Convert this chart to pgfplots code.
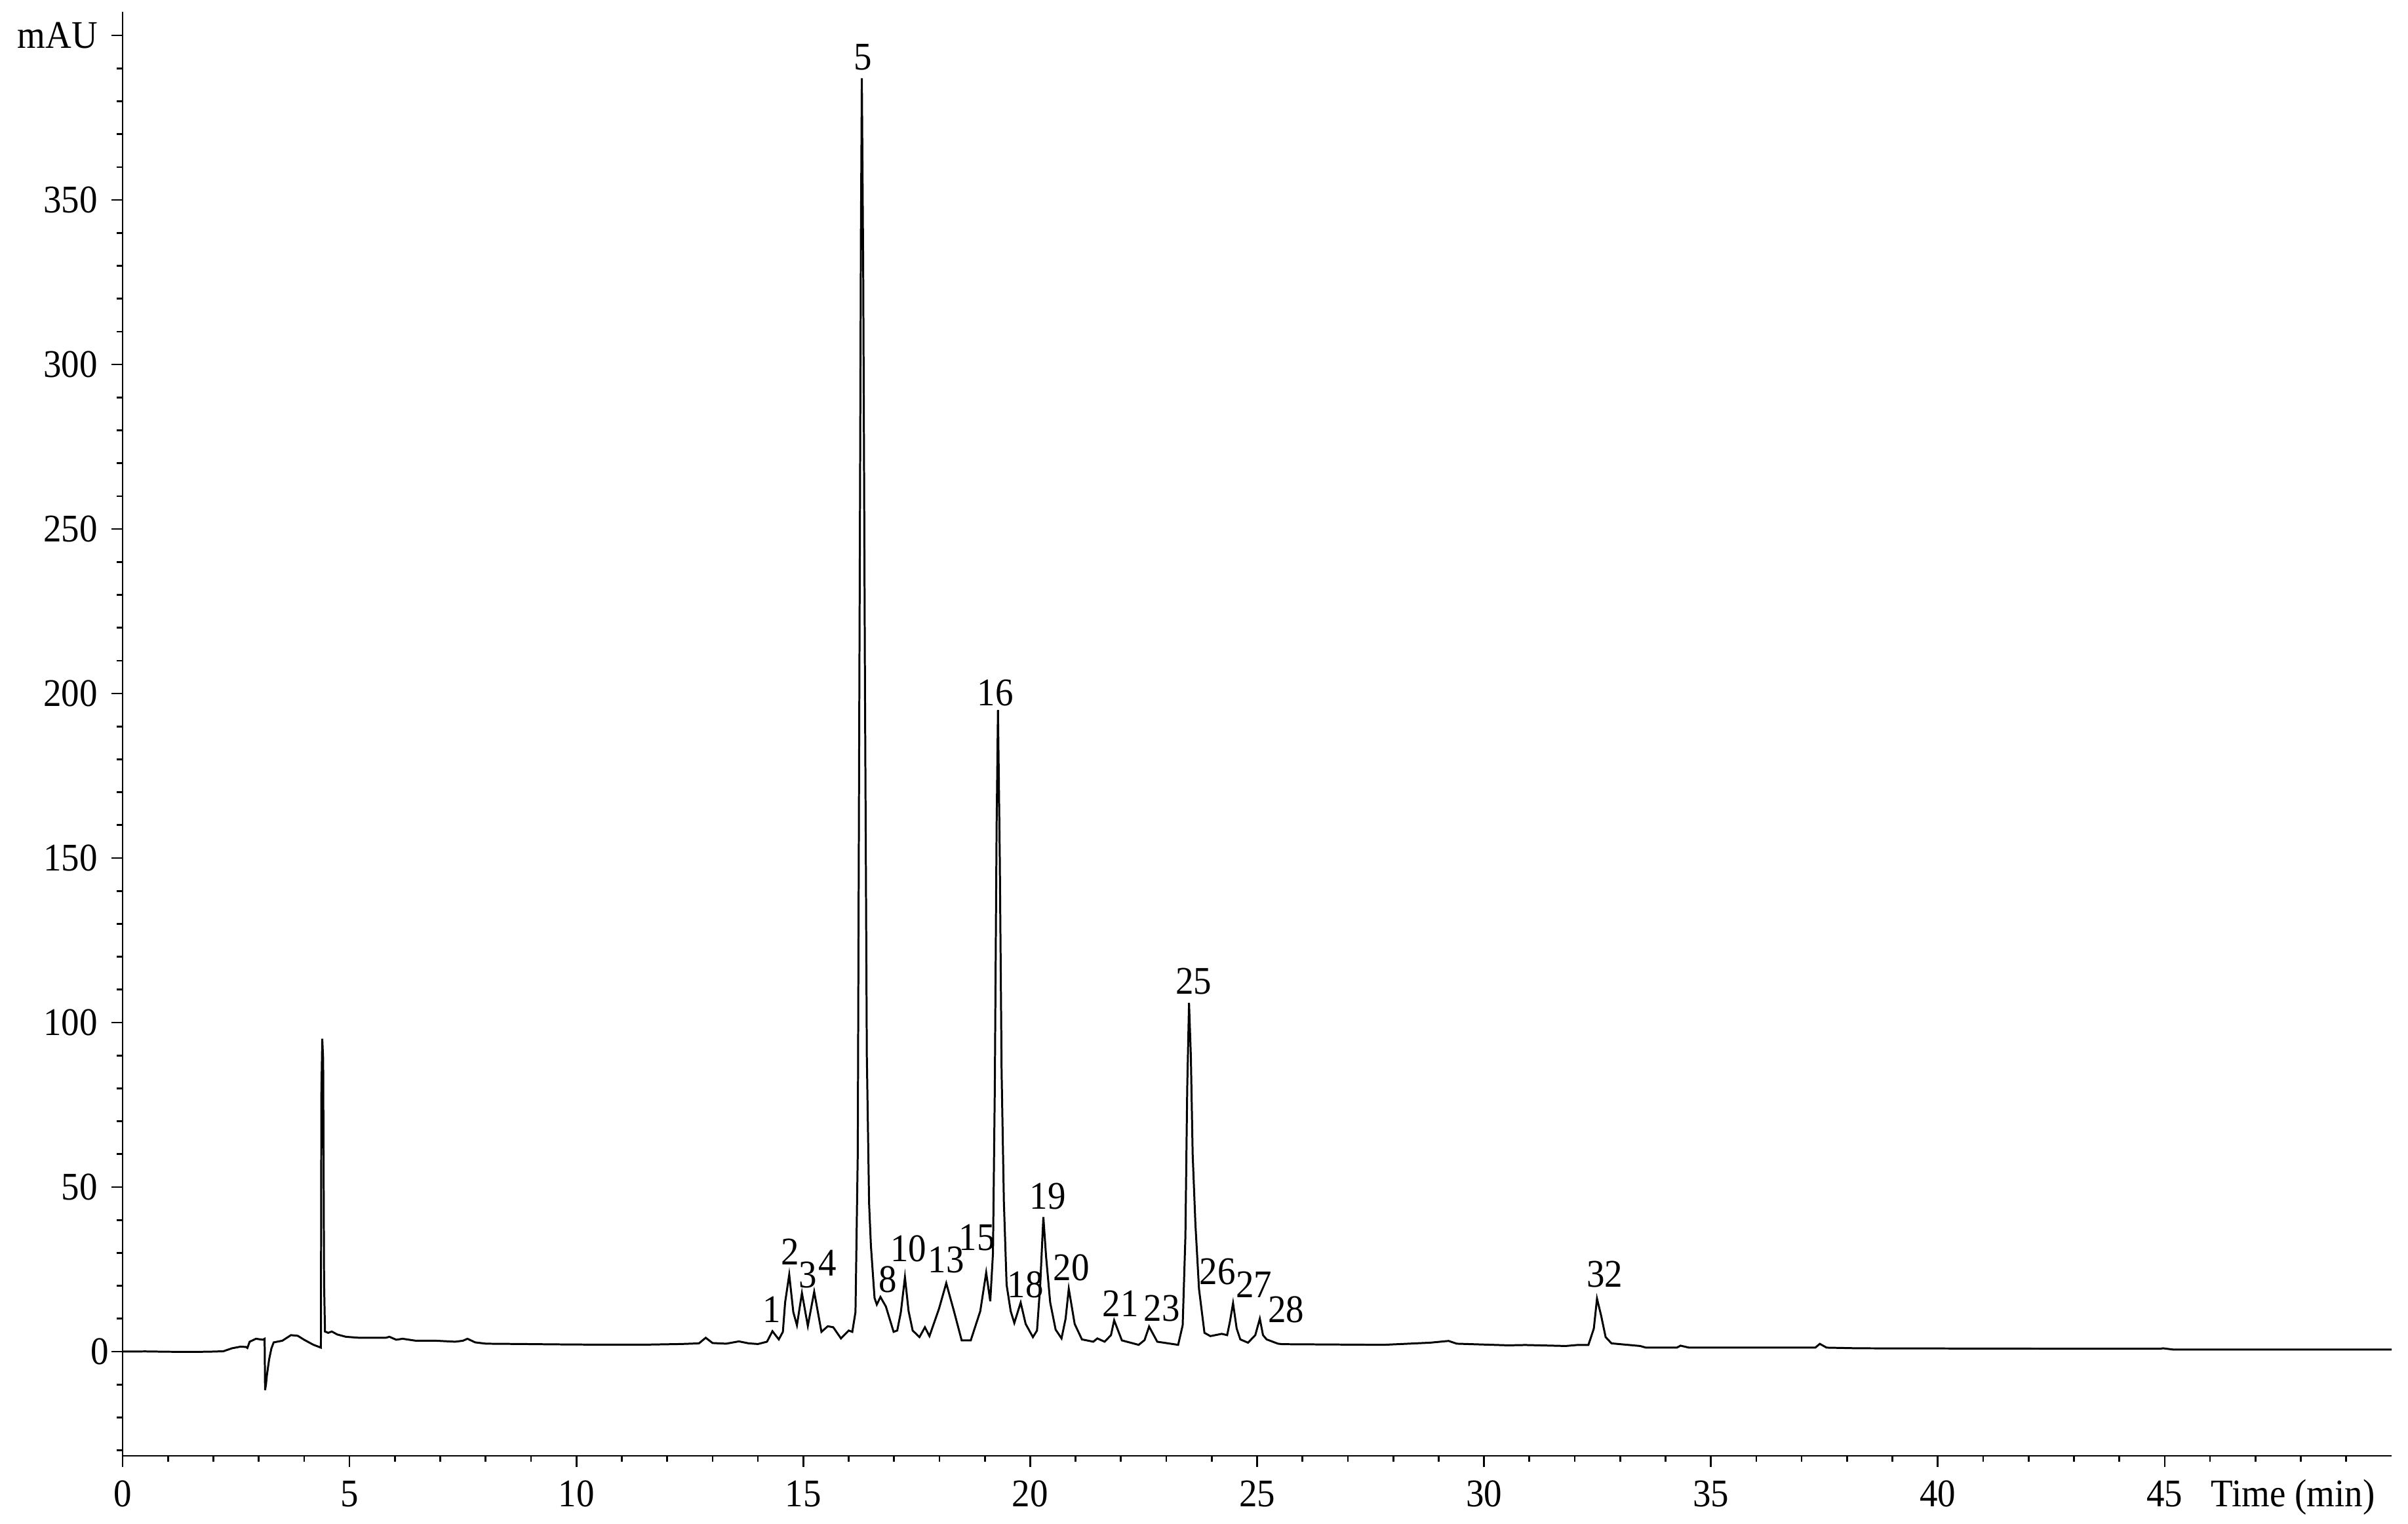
\documentclass[border=0pt]{standalone}
\usepackage{fontspec}
\setmainfont{Liberation Serif}[FakeStretch=0.92]
\usepackage{pgfplots}
\pgfplotsset{compat=1.18}
\begin{document}
\begin{tikzpicture}
\begin{axis}[
  scale only axis,
  width=20.36cm, height=12.96cm,
  xmin=0, xmax=50, ymin=-31.7, ymax=407.2,
  axis lines=left,
  axis line style={-, line width=0.45pt, black},
  tick align=outside,
  major tick length=0.1cm,
  minor tick length=0.053cm,
  tick style={line width=0.45pt, black},
  xtick={0,5,...,45},
  minor xtick={1,2,...,49},
  ytick={0,50,...,400},
  yticklabels={{\raisebox{-0.1cm}{0}\kern-0.1cm},50,100,150,200,250,300,350,mAU},
  minor ytick={-30,-20,...,400},
  /pgf/number format/assume math mode=true,
  clip=false,
]
\addplot[black, line width=0.5pt, mark=none] coordinates {
(0,0)(0.5,0.05)(1.0,-0.05)(1.59,-0.1)(2.0,0)(2.22,0.1)(2.41,1.0)(2.60,1.5)(2.72,1.4)(2.75,1.1)(2.80,3.0)(2.94,3.9)(3.09,3.6)(3.13,3.9)(3.14,-11.7)(3.16,-10)(3.18,-7.2)(3.23,-2.3)(3.28,1.0)(3.33,2.8)(3.52,3.3)(3.71,5.0)(3.86,4.8)(4.00,3.6)(4.20,2.1)(4.37,1.2)(4.38,78)(4.40,95.1)(4.42,88.8)(4.44,21.2)(4.46,6.1)(4.53,5.7)(4.61,6.1)(4.73,5.2)(4.92,4.5)(5.21,4.2)(5.59,4.2)(5.80,4.2)(5.88,4.5)(6.03,3.6)(6.17,3.9)(6.46,3.3)(6.90,3.3)(7.33,3.0)(7.50,3.3)(7.60,3.9)(7.77,2.8)(8.01,2.4)(8.83,2.3)(9.5,2.2)(10.5,2.1)(11.5,2.1)(12.3,2.3)(12.7,2.5)(12.85,4.2)(13.0,2.6)(13.3,2.4)(13.58,3.1)(13.8,2.5)(14.0,2.3)
(14.2,3.0)(14.32,6.2)(14.46,3.7)(14.55,6)(14.60,15)(14.69,23.4)(14.78,12)(14.86,8.0)(14.97,17.8)(15.1,7.8)(15.24,18.2)(15.4,6.0)(15.54,7.7)(15.66,7.4)(15.83,4.0)(16.0,6.4)(16.08,6.0)(16.15,12)(16.20,60)(16.24,220)(16.27,340)(16.29,387)(16.32,330)(16.36,200)(16.40,90)(16.45,45)(16.49,32.2)(16.57,16.3)(16.62,14.3)(16.7,16.6)(16.82,13.7)(16.99,6.0)(17.07,6.4)(17.15,12)(17.24,22.6)(17.32,12.3)(17.41,6.4)(17.56,4.4)(17.68,7.4)(17.78,4.7)(17.99,13.0)(18.15,20.8)(18.32,12.3)(18.49,3.4)(18.69,3.4)(18.9,12.3)(19.03,24.0)(19.12,15.3)(19.18,30)(19.22,80)(19.26,160)(19.29,195)(19.33,150)(19.37,85)(19.42,45.5)(19.48,20.3)(19.57,12.3)(19.65,8.7)(19.79,14.9)(19.9,8.4)(20.06,4.4)(20.15,6.4)(20.22,20)(20.29,40.9)(20.35,28.9)(20.44,15.0)(20.56,6.7)(20.69,4.0)(20.78,10)(20.85,19.1)(20.98,8.4)(21.14,3.7)(21.39,3.0)(21.48,4.0)(21.64,3.0)(21.78,5)(21.85,9.5)(22.02,3.4)(22.39,2.05)(22.52,3.5)(22.62,7.6)(22.8,3.0)(23.26,2.05)(23.36,8)(23.42,35)(23.46,80)(23.50,106)(23.54,90)(23.58,60)(23.64,38.9)(23.72,19.0)(23.84,5.7)(23.97,4.7)(24.22,5.4)(24.34,5.0)(24.40,9)(24.47,14.7)(24.55,7)(24.63,3.7)(24.8,2.7)(24.96,5)(25.06,10.0)(25.13,5)(25.21,3.7)(25.46,2.4)
(25.56,2.25)(27.78,2.05)(28.81,2.7)(29.22,3.24)(29.4,2.4)(30.53,1.9)(30.91,2.0)(31.8,1.7)(32.05,2.0)(32.3,2.0)(32.42,7)(32.49,16.1)(32.58,11.0)(32.68,4.4)(32.81,2.5)(33.44,1.7)(33.57,1.2)(34.25,1.2)(34.33,1.8)(34.52,1.2)(37.3,1.2)(37.4,2.35)(37.55,1.2)(38.25,1.0)(41.54,0.9)(44.9,0.85)(44.96,1.0)(45.2,0.6)(50.0,0.6)
};
\begin{scope}[every node/.style={inner sep=0pt, anchor=center}]
\node at (axis cs:14.31,12.7) {1};
\node at (axis cs:14.71,30.3) {2};
\node at (axis cs:15.10,23.3) {3};
\node at (axis cs:15.53,27.0) {4};
\node at (axis cs:16.32,393.5) {5};
\node at (axis cs:16.86,22.0) {8};
\node at (axis cs:17.32,31.3) {10};
\node at (axis cs:18.15,27.9) {13};
\node at (axis cs:18.83,34.6) {15};
\node at (axis cs:19.23,200.3) {16};
\node at (axis cs:19.90,20.3) {18};
\node at (axis cs:20.39,47.2) {19};
\node at (axis cs:20.91,25.6) {20};
\node at (axis cs:21.99,14.5) {21};
\node at (axis cs:22.90,13.1) {23};
\node at (axis cs:23.60,112.6) {25};
\node at (axis cs:24.13,24.3) {26};
\node at (axis cs:24.93,20.3) {27};
\node at (axis cs:25.64,12.8) {28};
\node at (axis cs:32.66,23.5) {32};
\end{scope}
\node[anchor=base, inner sep=0pt] at ([yshift=-0.455cm]axis cs:47.83,-31.7) {Time (min)};
\end{axis}
\pgfresetboundingbox
\path ([shift={(-1.10cm,-0.606cm)}]current axis.south west) rectangle ([shift={(0.147cm,0.106cm)}]current axis.north east);
\end{tikzpicture}
\end{document}
